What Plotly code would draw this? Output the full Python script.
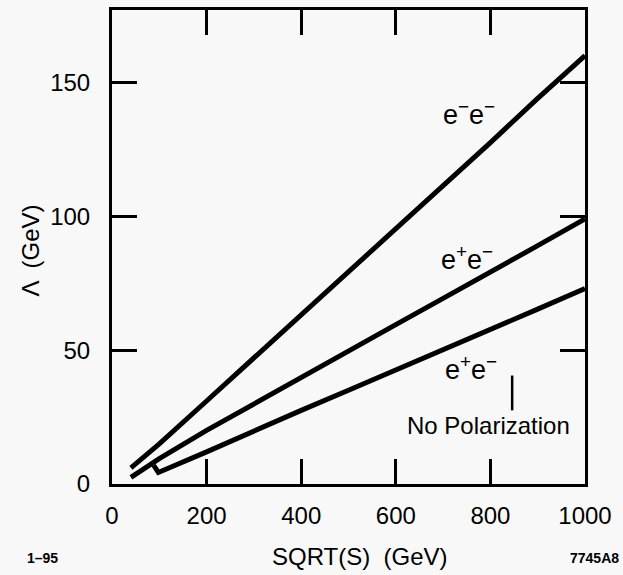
import plotly.graph_objects as go

# Data
sqrt_s_ee = [40, 100, 200, 300, 400, 500, 600, 700, 800, 900, 1000]
lam_em_em = [6, 15, 31, 47, 63, 79, 95, 111.5, 127.5, 144, 160]

sqrt_s_pe = [40, 100, 200, 300, 400, 500, 600, 700, 800, 900, 1000]
lam_ep_em = [2.5, 9.5, 20, 30, 40, 49.8, 59.5, 69.3, 79, 89, 99]

sqrt_s_np = [88, 98, 200, 300, 400, 500, 600, 700, 800, 900, 1000]
lam_nopol = [7, 4.3, 12, 20, 27.5, 35, 42.5, 50, 57.5, 65.3, 73]

x_ticks = [0, 200, 400, 600, 800, 1000]
y_ticks = [0, 50, 100, 150]

FONT = "Liberation Sans, Arial, Helvetica, sans-serif"
BG = "#f8f8f8"

fig = go.Figure()
line_style = dict(color="black", width=5)
for xs, ys, name in [(sqrt_s_ee, lam_em_em, "e-e-"),
                     (sqrt_s_pe, lam_ep_em, "e+e-"),
                     (sqrt_s_np, lam_nopol, "e+e- no pol")]:
    fig.add_trace(go.Scatter(x=xs, y=ys, mode="lines", line=line_style,
                             name=name, showlegend=False))

# vertical marker line under the lower label
fig.add_trace(go.Scatter(x=[846, 846], y=[40.5, 27.5], mode="lines",
                         line=dict(color="black", width=2.5), showlegend=False))

fig.update_layout(
    width=623, height=575,
    margin=dict(l=112, r=38, t=7, b=91),
    paper_bgcolor=BG, plot_bgcolor=BG,
    font=dict(family=FONT, size=24, color="black"),
    xaxis=dict(range=[0, 1000], tickvals=x_ticks, ticktext=[str(v) for v in x_ticks],
               showgrid=False, zeroline=False, showline=True, linewidth=3,
               linecolor="black", mirror="ticks", ticks="inside", ticklen=25,
               tickwidth=2.5, tickcolor="black", ticklabelstandoff=8,
               tickfont=dict(size=24)),
    yaxis=dict(range=[0, 177], tickvals=y_ticks, ticktext=[str(v) for v in y_ticks],
               showgrid=False, zeroline=False, showline=True, linewidth=3,
               linecolor="black", mirror="ticks", ticks="inside", ticklen=25,
               tickwidth=2.5, tickcolor="black", ticklabelstandoff=14,
               tickfont=dict(size=24)),
)

ann = [
    dict(x=755, y=138.5, text="e<sup>−</sup>e<sup>−</sup>", size=27),
    dict(x=750, y=84.5, text="e<sup>+</sup>e<sup>−</sup>", size=27),
    dict(x=759, y=43.5, text="e<sup>+</sup>e<sup>−</sup>", size=27),
    dict(x=795, y=22, text="No Polarization", size=24),
]
for a in ann:
    fig.add_annotation(x=a["x"], y=a["y"], text=a["text"], xref="x", yref="y",
                       xanchor="center", yanchor="middle", showarrow=False,
                       font=dict(size=a["size"], family=FONT))

def paper_note(px, py, text, size, angle=0):
    fig.add_annotation(x=(px - 112) / 473, y=(484 - py) / 477, xref="paper", yref="paper",
                       text=text, textangle=angle, showarrow=False,
                       xanchor="center", yanchor="middle",
                       font=dict(size=size, family=FONT))

# axis titles and corner labels
paper_note(360, 557, "SQRT(S)  (GeV)", 24)
paper_note(30, 249, "Λ  (GeV)", 24, angle=-90)
paper_note(42, 558, "<b>1–95</b>", 14)
paper_note(594, 558, "<b>7745A8</b>", 14)

fig.write_html("out.html")
